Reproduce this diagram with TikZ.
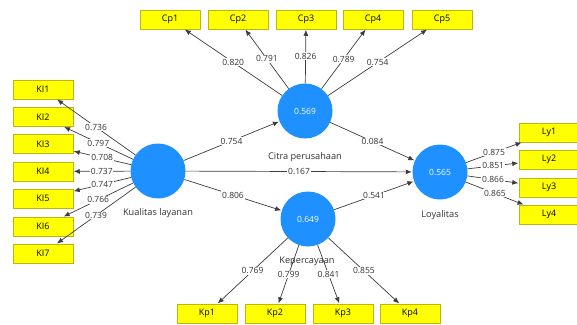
\documentclass[tikz,border=0pt]{standalone}
\usepackage{fontspec}
\setmainfont{Open Sans}
\usetikzlibrary{arrows.meta}
\definecolor{lvblue}{RGB}{30,144,255}
\definecolor{indy}{RGB}{255,255,0}
\definecolor{indyborder}{RGB}{190,180,20}
\definecolor{arrowgray}{RGB}{60,60,60}
\tikzset{
  indbox/.style={rectangle, draw=indyborder, line width=0.5pt, fill=indy, minimum width=60pt, minimum height=19pt, inner sep=0pt, font=\fontsize{9}{10}\selectfont},
  latent/.style={circle, fill=lvblue, draw=none, minimum size=55pt, inner sep=0pt, text=white, font=\fontsize{8.5}{10}\selectfont},
  lvcaption/.style={font=\fontsize{9.2}{10}\selectfont, inner sep=0pt, text=black!80},
  conn/.style={draw=arrowgray, line width=0.7pt, -{Latex[length=6pt,width=5pt]}, shorten >=0.5pt},
  wt/.style={fill=white, inner sep=0.8pt, font=\fontsize{8.5}{10}\selectfont, text=black!80, pos=0.5}
}
\begin{document}
\begin{tikzpicture}[x=1pt,y=-1pt]
\useasboundingbox (0,0) rectangle (577,324);
% latent variables
\node[latent] (KL) at (158,171) {};
\node[latent] (CP) at (305,111) {0.569};
\node[latent] (KP) at (308,219) {0.649};
\node[latent] (LY) at (440,172) {0.565};
\node[lvcaption] (KLl) at (158,213) {Kualitas layanan};
\node[lvcaption] (CPl) at (305,157) {Citra perusahaan};
\node[lvcaption] (LYl) at (440,215) {Loyalitas};
% indicators KI
\node[indbox] (KI1) at (43,89.5) {KI1};
\node[indbox] (KI2) at (43,117) {KI2};
\node[indbox] (KI3) at (43,144) {KI3};
\node[indbox] (KI4) at (43,171.5) {KI4};
\node[indbox] (KI5) at (43,198.5) {KI5};
\node[indbox] (KI6) at (43,226.5) {KI6};
\node[indbox] (KI7) at (43,253.5) {KI7};
% indicators Cp
\node[indbox] (Cp1) at (170,19.5) {Cp1};
\node[indbox] (Cp2) at (238,19.5) {Cp2};
\node[indbox] (Cp3) at (306,19.5) {Cp3};
\node[indbox] (Cp4) at (373,19.5) {Cp4};
\node[indbox] (Cp5) at (442,19.5) {Cp5};
% indicators Ly
\node[indbox] (Ly1) at (549,132.5) {Ly1};
\node[indbox] (Ly2) at (549,159.5) {Ly2};
\node[indbox] (Ly3) at (549,187.5) {Ly3};
\node[indbox] (Ly4) at (549,214.5) {Ly4};
% indicators Kp
\node[indbox] (Kp1) at (207,313.5) {Kp1};
\node[indbox] (Kp2) at (275,313.5) {Kp2};
\node[indbox] (Kp3) at (343,313.5) {Kp3};
\node[indbox] (Kp4) at (410,313.5) {Kp4};
% outer loadings
\draw[conn] (KL) -- node[wt]{0.736} (KI1);
\draw[conn] (KL) -- node[wt]{0.797} (KI2);
\draw[conn] (KL) -- node[wt]{0.708} (KI3);
\draw[conn] (KL) -- node[wt]{0.737} (KI4);
\draw[conn] (KL) -- node[wt]{0.747} (KI5);
\draw[conn] (KL) -- node[wt]{0.766} (KI6);
\draw[conn] (KL) -- node[wt]{0.739} (KI7);
\draw[conn] (CP) -- node[wt]{0.820} (Cp1);
\draw[conn] (CP) -- node[wt]{0.791} (Cp2);
\draw[conn] (CP) -- node[wt]{0.826} (Cp3);
\draw[conn] (CP) -- node[wt]{0.789} (Cp4);
\draw[conn] (CP) -- node[wt]{0.754} (Cp5);
\draw[conn] (LY) -- node[wt]{0.875} (Ly1);
\draw[conn] (LY) -- node[wt]{0.851} (Ly2);
\draw[conn] (LY) -- node[wt]{0.866} (Ly3);
\draw[conn] (LY) -- node[wt]{0.865} (Ly4);
\draw[conn] (KP) -- node[wt]{0.769} (Kp1);
\draw[conn] (KP) -- node[wt]{0.799} (Kp2);
\draw[conn] (KP) -- node[wt]{0.841} (Kp3);
\draw[conn] (KP) -- node[wt]{0.855} (Kp4);
% Kepercayaan caption (lines pass over it)
\node[lvcaption] (KPl) at (307,261) {Kepercayaan};
% structural paths
\draw[conn] (KL) -- node[wt]{0.754} (CP);
\draw[conn] (KL) -- node[wt]{0.167} (LY);
\draw[conn] (KL) -- node[wt]{0.806} (KP);
\draw[conn] (CP) -- node[wt]{0.084} (LY);
\draw[conn] (KP) -- node[wt]{0.541} (LY);
\end{tikzpicture}
\end{document}
